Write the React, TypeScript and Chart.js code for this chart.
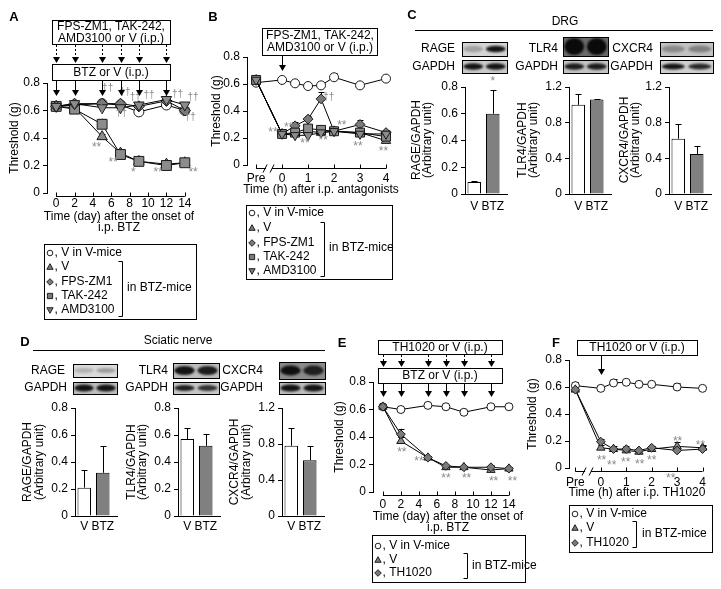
import React, { useEffect, useRef } from 'react';
import { Chart, registerables } from 'chart.js';

Chart.register(...registerables);

const FIG_W = 721;
const FIG_H = 589;
const FONT = "'Liberation Sans', Arial, Helvetica, sans-serif";
const Y_W = 34;
const X_H = 26;

// ===== Panel A: days after onset of i.p. BTZ =====
const daysA = [0, 2, 5, 7, 9, 12, 14];
const tickDaysA = [0, 2, 4, 6, 8, 10, 12, 14];
const injectDaysA = [0, 2, 5, 7, 9, 12];
const aVinV = [0.63, 0.64, 0.65, 0.64, 0.59, 0.64, 0.6];
const aVinVErr = [0.01, 0.01, 0.01, 0.01, 0.01, 0.02, 0.02];
const aV = [0.63, 0.62, 0.41, 0.29, 0.23, 0.21, 0.22];
const aVErr = [0.01, 0.02, 0.02, 0.02, 0.03, 0.03, 0.01];
const aFPS = [0.63, 0.65, 0.65, 0.65, 0.63, 0.67, 0.6];
const aFPSErr = [0.01, 0.02, 0.03, 0.02, 0.02, 0.02, 0.02];
const aTAK = [0.63, 0.61, 0.5, 0.28, 0.23, 0.2, 0.22];
const aTAKErr = [0.01, 0.02, 0.04, 0.02, 0.02, 0.02, 0.01];
const aAMD = [0.63, 0.65, 0.62, 0.62, 0.64, 0.68, 0.64];
const aAMDErr = [0.01, 0.02, 0.02, 0.02, 0.02, 0.02, 0.02];
const starsA = [
  { x: 4.4, y: 0.35, t: '**' }, { x: 6.2, y: 0.24, t: '**' }, { x: 8.4, y: 0.17, t: '*' },
  { x: 11.1, y: 0.17, t: '**' }, { x: 14.9, y: 0.17, t: '**' },
];
const daggersA = [
  { x: 5.6, y: 0.76, t: '††' }, { x: 4.9, y: 0.61, t: '†' }, { x: 7.5, y: 0.73, t: '††' },
  { x: 7.1, y: 0.58, t: '††' }, { x: 8.6, y: 0.70, t: '††' }, { x: 10.1, y: 0.71, t: '††' },
  { x: 13.2, y: 0.72, t: '††' }, { x: 14.9, y: 0.70, t: '††' }, { x: 14.6, y: 0.55, t: '††' },
];

// ===== Panel B: hours after i.p. antagonists (-1 = Pre) =====
const hoursB = [-1, 0, 0.5, 1, 1.5, 2, 3, 4];
const tickHoursB = [-1, 0, 1, 2, 3, 4];
const bVinV = [0.61, 0.63, 0.605, 0.585, 0.59, 0.65, 0.59, 0.64];
const bVinVErr = [0.01, 0.01, 0.01, 0.01, 0.01, 0.03, 0.01, 0.01];
const bV = [0.63, 0.23, 0.23, 0.25, 0.24, 0.25, 0.24, 0.18];
const bVErr = [0.01, 0.01, 0.01, 0.01, 0.01, 0.01, 0.02, 0.02];
const bFPS = [0.63, 0.23, 0.29, 0.34, 0.49, 0.25, 0.3, 0.24];
const bFPSErr = [0.01, 0.01, 0.03, 0.02, 0.05, 0.01, 0.03, 0.02];
const bTAK = [0.63, 0.23, 0.24, 0.27, 0.26, 0.25, 0.24, 0.21];
const bTAKErr = [0.01, 0.01, 0.01, 0.01, 0.01, 0.01, 0.02, 0.03];
const bAMD = [0.63, 0.23, 0.22, 0.22, 0.24, 0.25, 0.23, 0.23];
const bAMDErr = [0.01, 0.01, 0.01, 0.01, 0.01, 0.01, 0.01, 0.01];
const starsB = [
  { x: -0.35, y: 0.26, t: '**' }, { x: 0.25, y: 0.3, t: '**' }, { x: 0.88, y: 0.18, t: '**' },
  { x: 1.58, y: 0.2, t: '**' }, { x: 2.3, y: 0.31, t: '**' }, { x: 2.92, y: 0.16, t: '**' },
  { x: 3.9, y: 0.12, t: '**' },
];
const daggersB = [{ x: 1.8, y: 0.5, t: '††' }];

// ===== Panels C & D: Western blot quantification =====
const groups = ['V', 'BTZ'];
const drgRAGE = [0.09, 0.6];
const drgRAGEErr = [0.005, 0.18];
const drgTLR4 = [1.0, 1.06];
const drgTLR4Err = [0.12, 0.01];
const drgCXCR4 = [0.62, 0.45];
const drgCXCR4Err = [0.17, 0.09];
const snRAGE = [0.21, 0.32];
const snRAGEErr = [0.13, 0.2];
const snTLR4 = [0.57, 0.52];
const snTLR4Err = [0.08, 0.085];
const snCXCR4 = [0.78, 0.62];
const snCXCR4Err = [0.2, 0.16];
const ticks08 = [0, 0.2, 0.4, 0.6, 0.8];
const ticks12 = [0, 0.4, 0.8, 1.2];
const starsC1 = [{ x: 1, y: 0.86, t: '*' }];

// ===== Panel E: days after onset of i.p. BTZ =====
const daysE = [0, 2, 5, 7, 9, 12, 14];
const tickDaysE = [0, 2, 4, 6, 8, 10, 12, 14];
const injectDaysE = [0, 2, 5, 7, 9, 12];
const eVinV = [0.62, 0.6, 0.63, 0.62, 0.58, 0.62, 0.62];
const eVinVErr = [0.01, 0.01, 0.01, 0.01, 0.01, 0.01, 0.01];
const eV = [0.62, 0.37, 0.25, 0.18, 0.18, 0.16, 0.17];
const eVErr = [0.01, 0.03, 0.01, 0.01, 0.01, 0.02, 0.01];
const eTH = [0.62, 0.42, 0.25, 0.19, 0.18, 0.18, 0.17];
const eTHErr = [0.02, 0.04, 0.01, 0.01, 0.01, 0.02, 0.01];
const starsE = [
  { x: 2.1, y: 0.31, t: '**' }, { x: 4.0, y: 0.24, t: '**' }, { x: 7.0, y: 0.12, t: '**' },
  { x: 9.3, y: 0.12, t: '**' }, { x: 12.3, y: 0.1, t: '**' }, { x: 14.4, y: 0.1, t: '**' },
];

// ===== Panel F: hours after i.p. TH1020 (-1 = Pre) =====
const hoursF = [-1, 0, 0.5, 1, 1.5, 2, 3, 4];
const tickHoursF = [-1, 0, 1, 2, 3, 4];
const fVinV = [0.61, 0.59, 0.63, 0.635, 0.62, 0.62, 0.6, 0.59];
const fVinVErr = [0.03, 0.01, 0.03, 0.01, 0.01, 0.01, 0.03, 0.01];
const fV = [0.58, 0.15, 0.14, 0.13, 0.12, 0.14, 0.16, 0.15];
const fVErr = [0.01, 0.02, 0.02, 0.02, 0.02, 0.02, 0.03, 0.02];
const fTH = [0.58, 0.195, 0.14, 0.14, 0.13, 0.15, 0.13, 0.14];
const fTHErr = [0.01, 0.02, 0.01, 0.02, 0.01, 0.01, 0.01, 0.02];
const starsF = [
  { x: 0.03, y: 0.08, t: '**' }, { x: 0.43, y: 0.04, t: '**' }, { x: 0.98, y: 0.065, t: '**' },
  { x: 1.53, y: 0.05, t: '**' }, { x: 2.0, y: 0.08, t: '**' }, { x: 3.02, y: 0.215, t: '**' },
  { x: 3.92, y: 0.19, t: '**' }, { x: 2.75, y: -0.06, t: '**' },
];

// legends
const legendLabelsA = ['V in V-mice', 'V', 'FPS-ZM1', 'TAK-242', 'AMD3100'];
const legendLabelsE = ['V in V-mice', 'V', 'TH1020'];

// ---------------- drawing helpers ----------------
const SYM: Record<string, { ps: string; bg: string; rot: number; k: number }> = {
  open: { ps: 'circle', bg: '#ffffff', rot: 0, k: 1 },
  tri: { ps: 'triangle', bg: '#8c8c8c', rot: 0, k: 1.2 },
  dia: { ps: 'rectRot', bg: '#7a7a7a', rot: 0, k: 1.1 },
  sq: { ps: 'rect', bg: '#8c8c8c', rot: 0, k: 1.4 },
  dtri: { ps: 'triangle', bg: '#8c8c8c', rot: 180, k: 1.2 },
};

function txt(ctx: any, s: string, x: number, y: number, o: any = {}) {
  ctx.save();
  ctx.font = `${o.bold ? 'bold ' : ''}${o.size || 12}px ${FONT}`;
  ctx.fillStyle = o.color || '#000';
  ctx.textAlign = o.align || 'center';
  ctx.textBaseline = o.base || 'middle';
  ctx.translate(x, y);
  if (o.rot) ctx.rotate(o.rot);
  ctx.fillText(s, 0, 0);
  ctx.restore();
}

function seg(ctx: any, x0: number, y0: number, x1: number, y1: number) {
  ctx.beginPath();
  ctx.moveTo(x0, y0);
  ctx.lineTo(x1, y1);
  ctx.stroke();
}

function rect(ctx: any, x0: number, y0: number, x1: number, y1: number) {
  ctx.save();
  ctx.strokeStyle = '#000';
  ctx.lineWidth = 1;
  ctx.fillStyle = '#fff';
  ctx.fillRect(x0, y0, x1 - x0, y1 - y0);
  ctx.strokeRect(Math.round(x0) + 0.5, Math.round(y0) + 0.5, Math.round(x1 - x0), Math.round(y1 - y0));
  ctx.restore();
}

function arrow(ctx: any, x: number, y0: number, y1: number, dashed: boolean) {
  const px = Math.round(x) + 0.5;
  ctx.save();
  ctx.strokeStyle = '#000';
  ctx.lineWidth = 1;
  if (dashed) ctx.setLineDash([2, 2]);
  seg(ctx, px, y0, px, y1 - 5);
  ctx.setLineDash([]);
  ctx.fillStyle = '#000';
  ctx.beginPath();
  ctx.moveTo(px - 3.5, y1 - 6);
  ctx.lineTo(px + 3.5, y1 - 6);
  ctx.lineTo(px, y1);
  ctx.closePath();
  ctx.fill();
  ctx.restore();
}

function drawSym(ctx: any, kind: string, x: number, y: number, s: number) {
  ctx.save();
  ctx.beginPath();
  if (kind === 'open') ctx.arc(x, y, s * 0.85, 0, Math.PI * 2);
  else if (kind === 'tri') { ctx.moveTo(x, y - s); ctx.lineTo(x + s * 0.95, y + s * 0.7); ctx.lineTo(x - s * 0.95, y + s * 0.7); ctx.closePath(); }
  else if (kind === 'dtri') { ctx.moveTo(x, y + s); ctx.lineTo(x + s * 0.95, y - s * 0.7); ctx.lineTo(x - s * 0.95, y - s * 0.7); ctx.closePath(); }
  else if (kind === 'dia') { ctx.moveTo(x, y - s); ctx.lineTo(x + s, y); ctx.lineTo(x, y + s); ctx.lineTo(x - s, y); ctx.closePath(); }
  else ctx.rect(x - s * 0.8, y - s * 0.8, s * 1.6, s * 1.6);
  ctx.fillStyle = kind === 'open' ? '#fff' : '#7a7a7a';
  ctx.fill();
  ctx.strokeStyle = '#222';
  ctx.lineWidth = 1;
  ctx.stroke();
  ctx.restore();
}

function drawLegend(ctx: any, L: any) {
  rect(ctx, L.x0, L.y0, L.x1, L.y1);
  L.rows.forEach((r: any) => {
    drawSym(ctx, r.sym, L.mx, r.y, 3.3);
    txt(ctx, ', ' + r.label, L.tx, r.y, { align: 'left' });
  });
  ctx.save();
  ctx.strokeStyle = '#000';
  ctx.lineWidth = 1;
  const bx = Math.round(L.br.x) + 0.5;
  ctx.beginPath();
  ctx.moveTo(bx - 4, L.br.y0 + 0.5);
  ctx.lineTo(bx, L.br.y0 + 0.5);
  ctx.lineTo(bx, L.br.y1 + 0.5);
  ctx.lineTo(bx - 4, L.br.y1 + 0.5);
  ctx.stroke();
  ctx.restore();
  txt(ctx, 'in BTZ-mice', L.bt.x, L.bt.y, { align: 'left' });
}

function drawBlot(ctx: any, b: any) {
  ctx.save();
  const w = b.x1 - b.x0;
  const h = b.y1 - b.y0;
  ctx.fillStyle = b.bg;
  ctx.fillRect(b.x0, b.y0, w, h);
  const lw = w / 2;
  b.bands.forEach((a: number, i: number) => {
    const cx = b.x0 + lw * (i + 0.5);
    const cy = b.y0 + h / 2;
    ctx.filter = 'blur(1px)';
    ctx.fillStyle = `rgba(10,10,10,${a})`;
    ctx.beginPath();
    ctx.ellipse(cx, cy, lw * 0.44, (h * b.bh) / 2, 0, 0, Math.PI * 2);
    ctx.fill();
  });
  ctx.filter = 'none';
  ctx.strokeStyle = '#000';
  ctx.lineWidth = 1;
  ctx.strokeRect(Math.round(b.x0) + 0.5, Math.round(b.y0) + 0.5, Math.round(w), Math.round(h));
  ctx.restore();
  txt(ctx, b.label, b.lx, b.ly, { align: 'right' });
}

function fmtY(v: any) {
  const n = Number(v);
  return n === 0 ? '0' : (Math.round(n * 10) / 10).toFixed(1);
}

function pad(a: any) {
  return { left: a.l - Y_W, top: a.t, right: FIG_W - a.r, bottom: FIG_H - a.b - X_H };
}

function drawMarks(ctx: any, chart: any, marks: any[], color: string, size: number) {
  const xs = chart.scales.x;
  const ys = chart.scales.y;
  marks.forEach((m) => {
    const off = m.t.indexOf('*') >= 0 ? 3 : 0;
    txt(ctx, m.t, xs.getPixelForValue(m.x), ys.getPixelForValue(m.y) + off, { color, size });
  });
}

function yScaleOpts(max: number, ticks: number[]) {
  return {
    min: 0,
    max,
    afterBuildTicks: (s: any) => { s.ticks = ticks.map((v) => ({ value: v })); },
    afterFit: (s: any) => { s.width = Y_W; },
    grid: { display: true, drawOnChartArea: false, drawTicks: true, tickLength: 4, color: '#000', lineWidth: 1 },
    border: { display: true, color: '#000', width: 1 },
    ticks: { padding: 3, color: '#000', font: { family: FONT, size: 12 }, callback: fmtY },
  };
}

function lineConfig(spec: any) {
  const series = spec.series.map((s: any) => ({
    data: s.xs.map((x: number, i: number) => ({ x, y: s.ys[i] })),
    err: s.err,
    borderColor: '#000',
    borderWidth: 1,
    pointStyle: SYM[s.sym].ps,
    pointRotation: SYM[s.sym].rot,
    pointRadius: spec.r * SYM[s.sym].k,
    pointBackgroundColor: SYM[s.sym].bg,
    pointBorderColor: '#1a1a1a',
    pointBorderWidth: 1,
    fill: false,
    tension: 0,
    clip: false,
  }));
  return {
    type: 'line',
    data: { datasets: series },
    options: {
      responsive: false,
      animation: false,
      events: [],
      layout: { autoPadding: false, padding: pad(spec.area) },
      plugins: { legend: { display: false }, tooltip: { enabled: false } },
      scales: {
        x: {
          type: 'linear',
          min: spec.xMin,
          max: spec.xMax,
          afterBuildTicks: (s: any) => { s.ticks = spec.xTicks.map((v: number) => ({ value: v })); },
          afterFit: (s: any) => { s.height = X_H; },
          grid: { display: false, drawTicks: false },
          border: { display: false },
          ticks: {
            padding: spec.labelPad,
            color: '#000',
            font: { family: FONT, size: 12 },
            maxRotation: 0,
            minRotation: 0,
            autoSkip: false,
            callback: (v: any) => (Number(v) === -1 ? 'Pre' : String(v)),
          },
        },
        y: yScaleOpts(0.8, ticks08),
      },
    },
    plugins: [
      {
        id: 'linePanel',
        beforeDatasetsDraw(chart: any) {
          const ctx = chart.ctx;
          const ys = chart.scales.y;
          ctx.save();
          ctx.strokeStyle = '#000';
          ctx.lineWidth = 1;
          chart.data.datasets.forEach((ds: any, di: number) => {
            const meta = chart.getDatasetMeta(di);
            (ds.err || []).forEach((e: number, i: number) => {
              if (!e) return;
              const p = meta.data[i];
              const top = ys.getPixelForValue(ds.data[i].y + e);
              const px = Math.round(p.x) + 0.5;
              seg(ctx, px, p.y, px, top);
              seg(ctx, px - 3, Math.round(top) + 0.5, px + 3, Math.round(top) + 0.5);
            });
          });
          ctx.restore();
        },
        afterDraw(chart: any) {
          const ctx = chart.ctx;
          const xs = chart.scales.x;
          const ya = Math.round(chart.chartArea.bottom) + 3.5;
          ctx.save();
          ctx.strokeStyle = '#000';
          ctx.lineWidth = 1;
          const x0 = xs.getPixelForValue(spec.xTicks[0]);
          const x1 = xs.getPixelForValue(spec.xTicks[spec.xTicks.length - 1]);
          if (spec.brk !== undefined) {
            const bx = xs.getPixelForValue(spec.brk);
            seg(ctx, x0, ya, bx - 3, ya);
            seg(ctx, bx + 3, ya, x1, ya);
            seg(ctx, bx - 6, ya + 4, bx - 2, ya - 4);
            seg(ctx, bx + 1, ya + 4, bx + 5, ya - 4);
          } else {
            seg(ctx, x0, ya, x1, ya);
          }
          spec.xTicks.forEach((v: number) => {
            const px = Math.round(xs.getPixelForValue(v)) + 0.5;
            seg(ctx, px, ya, px, ya - 4);
          });
          ctx.restore();
          drawMarks(ctx, chart, spec.stars || [], '#8a8a8a', 12);
          drawMarks(ctx, chart, spec.daggers || [], '#8a8a8a', 10);
          if (spec.decor) spec.decor(ctx, chart);
        },
      },
    ],
  };
}

function barConfig(spec: any) {
  return {
    type: 'bar',
    data: {
      labels: groups,
      datasets: [
        {
          data: spec.vals,
          err: spec.errs,
          backgroundColor: ['#ffffff', '#808080'],
          borderColor: '#000',
          borderWidth: 1,
          barPercentage: 0.73,
          categoryPercentage: 1,
        },
      ],
    },
    options: {
      responsive: false,
      animation: false,
      events: [],
      layout: { autoPadding: false, padding: pad(spec.area) },
      plugins: { legend: { display: false }, tooltip: { enabled: false } },
      scales: {
        x: {
          afterFit: (s: any) => { s.height = X_H; },
          grid: { display: false, drawTicks: false },
          border: { display: false },
          ticks: {
            padding: spec.labelPad,
            color: '#000',
            font: { family: FONT, size: 12 },
            maxRotation: 0,
            minRotation: 0,
            autoSkip: false,
          },
        },
        y: yScaleOpts(spec.yMax, spec.yTicks),
      },
    },
    plugins: [
      {
        id: 'barPanel',
        afterDatasetsDraw(chart: any) {
          const ctx = chart.ctx;
          const ys = chart.scales.y;
          const meta = chart.getDatasetMeta(0);
          const ds = chart.data.datasets[0];
          ctx.save();
          ctx.strokeStyle = '#000';
          ctx.lineWidth = 1;
          ds.err.forEach((e: number, i: number) => {
            const bar = meta.data[i];
            const top = Math.round(ys.getPixelForValue(ds.data[i] + e)) + 0.5;
            const px = Math.round(bar.x) + 0.5;
            seg(ctx, px, bar.y, px, top);
            seg(ctx, px - 3, top, px + 3, top);
          });
          const ya = Math.round(chart.chartArea.bottom) + 0.5;
          seg(ctx, chart.chartArea.left, ya, chart.chartArea.left + 43, ya);
          ctx.restore();
          drawMarks(ctx, chart, spec.stars || [], '#8a8a8a', 12);
          txt(ctx, spec.title1, spec.tx1, spec.tcy, { rot: -Math.PI / 2 });
          txt(ctx, '(Arbitrary unit)', spec.tx2, spec.tcy, { rot: -Math.PI / 2 });
          if (spec.decor) spec.decor(ctx, chart);
        },
      },
    ],
  };
}

// ---------------- panel decorations ----------------
const blotsC = [
  { label: 'RAGE', lx: 455, ly: 49, x0: 462, x1: 507, y0: 42, y1: 56, bands: [0.25, 0.95], bh: 0.45, bg: '#d4d4d4' },
  { label: 'GAPDH', lx: 455, ly: 67, x0: 462, x1: 507, y0: 60, y1: 73, bands: [0.95, 0.95], bh: 0.5, bg: '#cacaca' },
  { label: 'TLR4', lx: 558, ly: 49, x0: 563, x1: 608, y0: 37, y1: 56, bands: [1, 1], bh: 0.9, bg: '#6a6a6a' },
  { label: 'GAPDH', lx: 558, ly: 67, x0: 563, x1: 608, y0: 60, y1: 73, bands: [0.9, 0.9], bh: 0.5, bg: '#c4c4c4' },
  { label: 'CXCR4', lx: 653, ly: 49, x0: 660, x1: 713, y0: 42, y1: 56, bands: [0.3, 0.35], bh: 0.5, bg: '#c2c2c2' },
  { label: 'GAPDH', lx: 653, ly: 67, x0: 660, x1: 713, y0: 60, y1: 73, bands: [0.95, 0.85], bh: 0.45, bg: '#d0d0d0' },
];
const blotsD = [
  { label: 'RAGE', lx: 65, ly: 371, x0: 73, x1: 117, y0: 364, y1: 377, bands: [0.2, 0.3], bh: 0.4, bg: '#dadada' },
  { label: 'GAPDH', lx: 67, ly: 388, x0: 73, x1: 117, y0: 382, y1: 394, bands: [0.95, 0.95], bh: 0.6, bg: '#bdbdbd' },
  { label: 'TLR4', lx: 168, ly: 371, x0: 173, x1: 219, y0: 363, y1: 378, bands: [0.95, 0.9], bh: 0.6, bg: '#bdbdbd' },
  { label: 'GAPDH', lx: 168, ly: 388, x0: 173, x1: 219, y0: 382, y1: 394, bands: [0.9, 0.8], bh: 0.5, bg: '#c8c8c8' },
  { label: 'CXCR4', lx: 263, ly: 371, x0: 279, x1: 325, y0: 362, y1: 379, bands: [0.95, 0.85], bh: 0.6, bg: '#8a8a8a' },
  { label: 'GAPDH', lx: 263, ly: 388, x0: 279, x1: 325, y0: 382, y1: 394, bands: [0.95, 0.95], bh: 0.6, bg: '#bdbdbd' },
];

function decorA(ctx: any, chart: any) {
  const xs = chart.scales.x;
  txt(ctx, 'A', 14, 17, { bold: true, size: 13 });
  rect(ctx, 52, 20, 170, 44);
  txt(ctx, 'FPS-ZM1, TAK-242,', 111, 27);
  txt(ctx, 'AMD3100 or V (i.p.)', 111, 38.5);
  injectDaysA.forEach((d) => arrow(ctx, xs.getPixelForValue(d), 45, 63, true));
  rect(ctx, 52, 64, 170, 80);
  txt(ctx, 'BTZ or V (i.p.)', 111, 72.5);
  injectDaysA.forEach((d) => arrow(ctx, xs.getPixelForValue(d), 81, 96, false));
  txt(ctx, 'Threshold (g)', 15, 138, { rot: -Math.PI / 2 });
  txt(ctx, 'Time (day) after the onset of', 119, 217);
  txt(ctx, 'i.p. BTZ', 119, 228);
  const syms = ['open', 'tri', 'dia', 'sq', 'dtri'];
  const rowsY = [253, 267, 282, 296, 310];
  drawLegend(ctx, {
    x0: 44, y0: 244, x1: 196, y1: 319, mx: 50, tx: 54.5,
    rows: legendLabelsA.map((l, i) => ({ sym: syms[i], label: l, y: rowsY[i] })),
    br: { x: 122, y0: 261, y1: 316 }, bt: { x: 127, y: 288 },
  });
}

function decorB(ctx: any, chart: any) {
  const xs = chart.scales.x;
  txt(ctx, 'B', 213, 17, { bold: true, size: 13 });
  rect(ctx, 262, 28, 377, 55);
  txt(ctx, 'FPS-ZM1, TAK-242,', 320, 36);
  txt(ctx, 'AMD3100 or V (i.p.)', 320, 47.5);
  arrow(ctx, xs.getPixelForValue(0), 56, 71, false);
  txt(ctx, 'Threshold (g)', 217, 111, { rot: -Math.PI / 2 });
  txt(ctx, 'Time (h) after i.p. antagonists', 321, 190);
  const syms = ['open', 'tri', 'dia', 'sq', 'dtri'];
  const rowsY = [213, 228, 243, 257, 271];
  drawLegend(ctx, {
    x0: 246, y0: 205, x1: 392, y1: 279, mx: 252, tx: 256.5,
    rows: legendLabelsA.map((l, i) => ({ sym: syms[i], label: l, y: rowsY[i] })),
    br: { x: 324, y0: 222, y1: 276 }, bt: { x: 329, y: 248 },
  });
}

function decorC(ctx: any) {
  txt(ctx, 'C', 412, 15, { bold: true, size: 13 });
  ctx.save();
  ctx.strokeStyle = '#000';
  ctx.lineWidth = 1;
  seg(ctx, 415, 30.5, 713, 30.5);
  ctx.restore();
  txt(ctx, 'DRG', 565, 22);
  blotsC.forEach((b) => drawBlot(ctx, b));
}

function decorD(ctx: any) {
  txt(ctx, 'D', 25, 342, { bold: true, size: 13 });
  ctx.save();
  ctx.strokeStyle = '#000';
  ctx.lineWidth = 1;
  seg(ctx, 33, 350.5, 325, 350.5);
  ctx.restore();
  txt(ctx, 'Sciatic nerve', 178, 341);
  blotsD.forEach((b) => drawBlot(ctx, b));
}

function decorE(ctx: any, chart: any) {
  const xs = chart.scales.x;
  txt(ctx, 'E', 342, 343, { bold: true, size: 13 });
  rect(ctx, 378, 340, 502, 354);
  txt(ctx, 'TH1020 or V (i.p.)', 440, 347.5);
  injectDaysE.forEach((d) => arrow(ctx, xs.getPixelForValue(d), 355, 367, true));
  rect(ctx, 378, 368, 502, 383);
  txt(ctx, 'BTZ or V (i.p.)', 440, 376);
  injectDaysE.forEach((d) => arrow(ctx, xs.getPixelForValue(d), 384, 397, false));
  txt(ctx, 'Threshold (g)', 340, 437, { rot: -Math.PI / 2 });
  txt(ctx, 'Time (day) after the onset of', 448, 517);
  txt(ctx, 'i.p. BTZ', 448, 528);
  const syms = ['open', 'tri', 'dia'];
  const rowsY = [546, 560, 573];
  drawLegend(ctx, {
    x0: 372, y0: 535, x1: 525, y1: 582, mx: 378, tx: 382.5,
    rows: legendLabelsE.map((l, i) => ({ sym: syms[i], label: l, y: rowsY[i] })),
    br: { x: 467, y0: 553, y1: 578 }, bt: { x: 472, y: 566 },
  });
}

function decorF(ctx: any, chart: any) {
  const xs = chart.scales.x;
  txt(ctx, 'F', 556, 343, { bold: true, size: 13 });
  rect(ctx, 577, 340, 697, 355);
  txt(ctx, 'TH1020 or V (i.p.)', 637, 347.5);
  arrow(ctx, xs.getPixelForValue(0), 356, 375, false);
  txt(ctx, 'Threshold (g)', 533, 414, { rot: -Math.PI / 2 });
  txt(ctx, 'Time (h) after i.p. TH1020', 637, 493);
  const syms = ['open', 'tri', 'dia'];
  const rowsY = [514, 528, 543];
  drawLegend(ctx, {
    x0: 569, y0: 505, x1: 712, y1: 552, mx: 575, tx: 579.5,
    rows: legendLabelsE.map((l, i) => ({ sym: syms[i], label: l, y: rowsY[i] })),
    br: { x: 636, y0: 521, y1: 547 }, bt: { x: 642, y: 534 },
  });
}

function buildConfigs(): any[] {
  const cfgs: any[] = [];
  cfgs.push(lineConfig({
    area: { l: 47, t: 83, r: 194, b: 193 }, xMin: -1, xMax: 15, xTicks: tickDaysA, labelPad: 3, r: 5,
    series: [
      { xs: daysA, ys: aAMD, err: aAMDErr, sym: 'dtri' },
      { xs: daysA, ys: aFPS, err: aFPSErr, sym: 'dia' },
      { xs: daysA, ys: aTAK, err: aTAKErr, sym: 'sq' },
      { xs: daysA, ys: aV, err: aVErr, sym: 'tri' },
      { xs: daysA, ys: aVinV, err: aVinVErr, sym: 'open' },
    ],
    stars: starsA, daggers: daggersA, decor: decorA,
  }));
  cfgs.push(lineConfig({
    area: { l: 247, t: 57, r: 399, b: 165 }, xMin: -1.35, xMax: 4.5, xTicks: tickHoursB, labelPad: 6, r: 4.5, brk: -0.5,
    series: [
      { xs: hoursB, ys: bAMD, err: bAMDErr, sym: 'dtri' },
      { xs: hoursB, ys: bTAK, err: bTAKErr, sym: 'sq' },
      { xs: hoursB, ys: bV, err: bVErr, sym: 'tri' },
      { xs: hoursB, ys: bFPS, err: bFPSErr, sym: 'dia' },
      { xs: hoursB, ys: bVinV, err: bVinVErr, sym: 'open' },
    ],
    stars: starsB, daggers: daggersB, decor: decorB,
  }));
  cfgs.push(lineConfig({
    area: { l: 373, t: 382, r: 520, b: 492 }, xMin: -1.1, xMax: 15.23, xTicks: tickDaysE, labelPad: 5, r: 4,
    series: [
      { xs: daysE, ys: eTH, err: eTHErr, sym: 'dia' },
      { xs: daysE, ys: eV, err: eVErr, sym: 'tri' },
      { xs: daysE, ys: eVinV, err: eVinVErr, sym: 'open' },
    ],
    stars: starsE, decor: decorE,
  }));
  cfgs.push(lineConfig({
    area: { l: 569, t: 360, r: 714, b: 468 }, xMin: -1.25, xMax: 4.45, xTicks: tickHoursF, labelPad: 7, r: 4, brk: -0.5,
    series: [
      { xs: hoursF, ys: fTH, err: fTHErr, sym: 'dia' },
      { xs: hoursF, ys: fV, err: fVErr, sym: 'tri' },
      { xs: hoursF, ys: fVinV, err: fVinVErr, sym: 'open' },
    ],
    stars: starsF, decor: decorF,
  }));
  const cT = 87, cB = 194, dT = 408, dB = 516;
  cfgs.push(barConfig({ area: { l: 465, t: cT, r: 502, b: cB }, vals: drgRAGE, errs: drgRAGEErr, yMax: 0.8, yTicks: ticks08, labelPad: 5, title1: 'RAGE/GAPDH', tx1: 417, tx2: 428, tcy: 140, stars: starsC1, decor: decorC }));
  cfgs.push(barConfig({ area: { l: 569, t: cT, r: 606, b: cB }, vals: drgTLR4, errs: drgTLR4Err, yMax: 1.2, yTicks: ticks12, labelPad: 5, title1: 'TLR4/GAPDH', tx1: 523, tx2: 534, tcy: 140 }));
  cfgs.push(barConfig({ area: { l: 669, t: cT, r: 706, b: cB }, vals: drgCXCR4, errs: drgCXCR4Err, yMax: 1.2, yTicks: ticks12, labelPad: 5, title1: 'CXCR4/GAPDH', tx1: 625, tx2: 636, tcy: 140 }));
  cfgs.push(barConfig({ area: { l: 75, t: dT, r: 112, b: dB }, vals: snRAGE, errs: snRAGEErr, yMax: 0.8, yTicks: ticks08, labelPad: 3, title1: 'RAGE/GAPDH', tx1: 28, tx2: 40, tcy: 462, decor: decorD }));
  cfgs.push(barConfig({ area: { l: 178, t: dT, r: 215, b: dB }, vals: snTLR4, errs: snTLR4Err, yMax: 0.8, yTicks: ticks08, labelPad: 3, title1: 'TLR4/GAPDH', tx1: 132, tx2: 143, tcy: 462 }));
  cfgs.push(barConfig({ area: { l: 282, t: dT, r: 319, b: dB }, vals: snCXCR4, errs: snCXCR4Err, yMax: 1.2, yTicks: ticks12, labelPad: 3, title1: 'CXCR4/GAPDH', tx1: 235, tx2: 247, tcy: 462 }));
  return cfgs;
}

const N_CHARTS = 10;

export default function App() {
  const refs = useRef<(HTMLCanvasElement | null)[]>([]);
  useEffect(() => {
    Chart.defaults.font.family = FONT;
    Chart.defaults.color = '#000';
    const cfgs = buildConfigs();
    const charts = cfgs.map((cfg, i) => new Chart(refs.current[i] as HTMLCanvasElement, cfg));
    return () => charts.forEach((c) => c.destroy());
  }, []);
  return (
    <div style={{ position: 'absolute', left: 0, top: 0, width: FIG_W, height: FIG_H, background: '#fff', overflow: 'hidden' }}>
      {Array.from({ length: N_CHARTS }).map((_, i) => (
        <canvas
          key={i}
          ref={(el) => { refs.current[i] = el; }}
          width={FIG_W}
          height={FIG_H}
          style={{ position: 'absolute', left: 0, top: 0, width: FIG_W, height: FIG_H }}
        />
      ))}
    </div>
  );
}
